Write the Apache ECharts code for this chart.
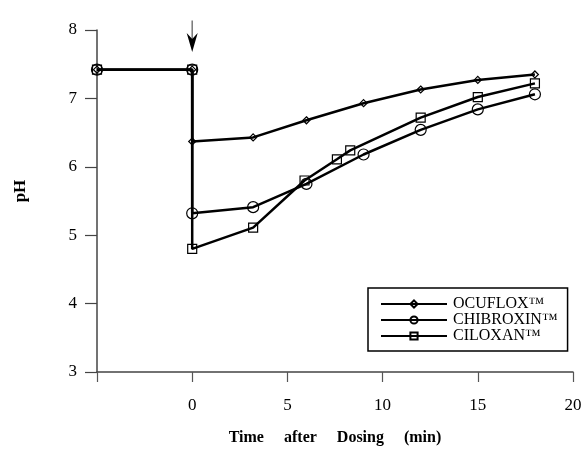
<!DOCTYPE html>
<html><head><meta charset="utf-8">
<script src="https://cdn.jsdelivr.net/npm/echarts@6/dist/echarts.min.js"></script>
<style>html,body{margin:0;padding:0;background:#fff}#c{width:585px;height:451px}</style>
</head><body><div id="c"></div>
<script>
const seriesNames = ['OCUFLOX\u2122', 'CHIBROXIN\u2122', 'CILOXAN\u2122'];
const ocufloxT = [-5, 0, 0, 3.2, 6, 9, 12, 15, 18];
const ocufloxPH = [7.42, 7.42, 6.37, 6.43, 6.68, 6.93, 7.13, 7.27, 7.35];
const chibroxinT = [-5, 0, 0, 3.2, 6, 9, 12, 15, 18];
const chibroxinPH = [7.42, 7.42, 5.32, 5.41, 5.75, 6.18, 6.54, 6.84, 7.06];
const ciloxanT = [-5, 0, 0, 3.2, 5.9, 7.6, 8.3, 12, 15, 18];
const ciloxanPH = [7.42, 7.42, 4.8, 5.11, 5.8, 6.11, 6.24, 6.72, 7.02, 7.22];
const xTicks = [-5, 0, 5, 10, 15, 20];
const yTicks = [3, 4, 5, 6, 7, 8];
const arrowT = 0, arrowTop = 8.14, arrowTip = 7.68;

const zip = (a, b) => a.map((v, i) => [v, b[i]]);
const font = '"Liberation Serif", "Times New Roman", serif';
const symbols = ['diamond', 'circle', 'rect'];
const sizes = [7, 11, 9];
const datas = [zip(ocufloxT, ocufloxPH), zip(chibroxinT, chibroxinPH), zip(ciloxanT, ciloxanPH)];

const series = seriesNames.map((n, i) => ({
  name: n, type: 'line', data: datas[i], symbol: symbols[i], symbolSize: sizes[i],
  showAllSymbol: true, clip: false,
  lineStyle: { color: '#000', width: 2.5 },
  itemStyle: { color: 'rgba(255,255,255,0)', borderColor: '#000', borderWidth: 1.2 },
  emphasis: { disabled: true }
}));
series.push({
  type: 'custom', clip: false, silent: true,
  data: [[arrowT, arrowTop, arrowTip]],
  renderItem: function (params, api) {
    const top = api.coord([api.value(0), api.value(1)]);
    const tip = api.coord([api.value(0), api.value(2)]);
    const hl = 19, hw = 5.5, notch = 6;
    return {
      type: 'group',
      children: [
        { type: 'line', shape: { x1: top[0], y1: top[1], x2: tip[0], y2: tip[1] - hl + notch },
          style: { stroke: '#777', lineWidth: 1.5 } },
        { type: 'polygon', shape: { points: [
            [tip[0], tip[1]], [tip[0] - hw, tip[1] - hl], [tip[0], tip[1] - hl + notch], [tip[0] + hw, tip[1] - hl]
          ] }, style: { fill: '#000' } }
      ]
    };
  }
});

const chart = echarts.init(document.getElementById('c'), null, { renderer: 'canvas' });
chart.setOption({
  animation: false,
  backgroundColor: '#fff',
  grid: { left: 97, right: 12, top: 30, bottom: 74 },
  xAxis: {
    type: 'value', min: xTicks[0], max: xTicks[xTicks.length - 1], interval: 5,
    name: 'Time     after     Dosing     (min)', nameLocation: 'middle', nameGap: 58,
    nameTextStyle: { fontFamily: font, fontWeight: 'bold', fontSize: 16, color: '#000' },
    axisLine: { onZero: false, lineStyle: { color: '#444', width: 1.5 } },
    axisTick: { show: true, length: 10, lineStyle: { color: '#555', width: 1.2 } },
    axisLabel: { fontFamily: font, fontSize: 17, color: '#000', margin: 25,
      formatter: v => (v < 0 ? '' : String(v)) },
    splitLine: { show: false }
  },
  yAxis: {
    type: 'value', min: yTicks[0], max: yTicks[yTicks.length - 1], interval: 1,
    name: 'pH', nameLocation: 'middle', nameGap: 68, nameRotate: 90,
    nameTextStyle: { fontFamily: font, fontWeight: 'bold', fontSize: 17, color: '#000', padding: [0, 0, 0, 20] },
    axisLine: { show: true, onZero: false, lineStyle: { color: '#444', width: 1.5 } },
    axisTick: { show: true, length: 12, lineStyle: { color: '#444', width: 1.2 } },
    axisLabel: { fontFamily: font, fontSize: 17, color: '#000', margin: 20 },
    splitLine: { show: false }
  },
  legend: {
    orient: 'vertical', left: 368, top: 288,
    padding: [8, 10, 7, 12], itemGap: 0, itemWidth: 66, itemHeight: 9,
    borderColor: '#000', borderWidth: 1.5, backgroundColor: '#fff',
    textStyle: { fontFamily: font, fontSize: 16, color: '#000', padding: [0, 0, 0, 1] },
    selectedMode: false,
    data: seriesNames
  },
  series: series
});
</script></body></html>
